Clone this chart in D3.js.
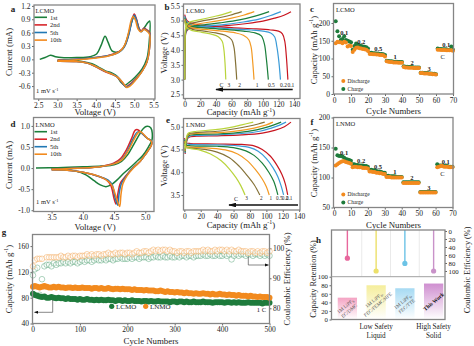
<!DOCTYPE html>
<html>
<head>
<meta charset="utf-8">
<script src="https://cdnjs.cloudflare.com/ajax/libs/d3/7.8.5/d3.min.js"></script>
<style>
  body { margin: 0; background: #fff; }
</style>
</head>
<body>
<script>
// ---------------- data ----------------

// panels a/d: cyclic voltammetry, [voltage, current]
const cvLabels = ["1st", "2nd", "5th", "10th"];
const cvColors = ["#1b7f3b", "#d7262b", "#2178b4", "#f28a1e"];

const cvA1st = [[2.54,0],[2.68,0.04],[2.82,0.09],[2.95,0.06],[3.1,0.04],[3.5,0.04],[3.85,0.06],[4.02,0.12],[4.14,0.32],[4.24,0.52],[4.32,0.38],[4.42,0.19],[4.52,0.16],[4.62,0.18],[4.72,0.26],[4.82,0.48],[4.92,0.8],[5.0,0.98],[5.07,0.84],[5.17,0.63],[5.27,0.72],[5.35,0.82],[5.4,0.86],[5.39,0.4],[5.33,0.02],[5.2,-0.22],[5.02,-0.4],[4.86,-0.52],[4.75,-0.58],[4.66,-0.52],[4.54,-0.37],[4.4,-0.3],[4.25,-0.26],[4.08,-0.18],[3.9,-0.1],[3.6,-0.04],[3.2,-0.02],[3.0,-0.02]];
const cvA2nd = [[3.0,-0.02],[3.5,0.0],[4.0,0.04],[4.3,0.08],[4.5,0.13],[4.65,0.2],[4.76,0.32],[4.86,0.58],[4.94,0.88],[5.0,1.02],[5.06,0.9],[5.12,0.7],[5.18,0.64],[5.25,0.7],[5.32,0.67],[5.4,0.6],[5.39,0.2],[5.33,-0.06],[5.22,-0.24],[5.08,-0.4],[4.94,-0.52],[4.84,-0.59],[4.77,-0.61],[4.68,-0.52],[4.56,-0.4],[4.4,-0.33],[4.22,-0.27],[4.0,-0.17],[3.8,-0.09],[3.5,-0.05],[3.0,-0.04]];
const cvA5th = [[3.0,-0.03],[3.5,0.0],[4.0,0.04],[4.3,0.08],[4.5,0.12],[4.65,0.19],[4.76,0.31],[4.86,0.56],[4.94,0.86],[5.0,0.99],[5.06,0.88],[5.12,0.68],[5.18,0.62],[5.25,0.68],[5.32,0.65],[5.4,0.58],[5.39,0.2],[5.33,-0.06],[5.22,-0.24],[5.08,-0.41],[4.95,-0.53],[4.85,-0.6],[4.78,-0.62],[4.69,-0.52],[4.57,-0.4],[4.4,-0.32],[4.22,-0.26],[4.0,-0.16],[3.8,-0.09],[3.5,-0.05],[3.0,-0.04]];
const cvA10th = [[3.0,-0.03],[3.5,-0.01],[4.0,0.03],[4.3,0.07],[4.5,0.12],[4.65,0.2],[4.75,0.32],[4.85,0.6],[4.92,0.88],[4.97,0.96],[5.03,0.88],[5.1,0.68],[5.17,0.62],[5.25,0.67],[5.32,0.64],[5.4,0.56],[5.39,0.2],[5.33,-0.06],[5.22,-0.25],[5.08,-0.42],[4.96,-0.54],[4.87,-0.61],[4.8,-0.63],[4.71,-0.53],[4.58,-0.41],[4.42,-0.33],[4.22,-0.26],[4.0,-0.16],[3.8,-0.09],[3.5,-0.05],[3.0,-0.04]];

const cvD1st = [[3.25,0.0],[3.6,0.01],[4.0,0.03],[4.3,0.05],[4.5,0.08],[4.62,0.16],[4.72,0.32],[4.8,0.52],[4.9,0.78],[4.97,0.94],[5.03,0.99],[5.09,0.95],[5.11,0.68],[5.05,0.5],[4.96,0.3],[4.85,0.14],[4.75,0.0],[4.65,-0.13],[4.55,-0.28],[4.45,-0.4],[4.37,-0.44],[4.28,-0.4],[4.18,-0.3],[4.05,-0.16],[3.85,-0.06],[3.6,-0.02],[3.5,-0.01]];
const cvD2nd = [[3.5,-0.02],[4.0,0.0],[4.3,0.04],[4.5,0.12],[4.6,0.22],[4.7,0.44],[4.78,0.7],[4.84,0.9],[4.88,0.91],[4.95,0.82],[5.02,0.72],[5.1,0.64],[5.1,0.55],[5.0,0.32],[4.92,0.16],[4.8,0.0],[4.68,-0.2],[4.6,-0.36],[4.56,-0.62],[4.53,-0.85],[4.5,-0.72],[4.45,-0.42],[4.38,-0.28],[4.26,-0.2],[4.0,-0.1],[3.75,-0.05],[3.5,-0.04]];
const cvD5th = [[3.5,-0.03],[4.0,0.0],[4.3,0.04],[4.5,0.1],[4.62,0.2],[4.72,0.42],[4.8,0.68],[4.87,0.85],[4.91,0.86],[4.97,0.79],[5.03,0.71],[5.1,0.64],[5.1,0.55],[5.0,0.32],[4.92,0.16],[4.8,0.0],[4.7,-0.18],[4.62,-0.36],[4.58,-0.62],[4.56,-0.88],[4.52,-0.72],[4.47,-0.4],[4.4,-0.28],[4.26,-0.2],[4.0,-0.1],[3.75,-0.05],[3.5,-0.04]];
const cvD10th = [[3.5,-0.03],[4.0,0.0],[4.3,0.04],[4.5,0.1],[4.63,0.2],[4.73,0.42],[4.82,0.68],[4.88,0.83],[4.92,0.86],[4.98,0.79],[5.04,0.7],[5.1,0.63],[5.1,0.55],[5.0,0.32],[4.92,0.16],[4.81,0.0],[4.71,-0.18],[4.64,-0.38],[4.61,-0.64],[4.59,-0.91],[4.54,-0.72],[4.48,-0.45],[4.42,-0.33],[4.3,-0.22],[4.0,-0.1],[3.75,-0.05],[3.5,-0.04]];

// panels b/e: charge-discharge at C rates, [capacity, voltage]
const rateNames = ["0.1", "0.2", "0.5", "1", "2", "3"];
const rateColors = ["#c8151f", "#3b9bd8", "#1b7f3b", "#f39a24", "#857238", "#b9d43c"];

const lcmoCharge = [
  [[0,3.0],[0.6,4.2],[2,4.62],[6,4.72],[20,4.77],[50,4.82],[80,4.9],[100,4.98],[115,5.08],[127,5.18],[136,5.3]],
  [[0,3.0],[0.6,4.25],[2,4.65],[6,4.75],[20,4.8],[50,4.86],[75,4.95],[95,5.05],[110,5.17],[123,5.3]],
  [[0,3.0],[0.6,4.3],[2,4.68],[6,4.78],[20,4.84],[45,4.92],[70,5.02],[90,5.15],[108,5.3]],
  [[0,3.0],[0.6,4.35],[2,4.72],[6,4.82],[20,4.9],[40,4.98],[60,5.08],[75,5.18],[89,5.3]],
  [[0,3.0],[0.6,4.4],[2,4.78],[6,4.88],[20,4.97],[40,5.07],[58,5.18],[73,5.3]],
  [[0,3.0],[0.6,4.45],[2,4.82],[6,4.94],[20,5.03],[35,5.12],[48,5.2],[60,5.3]]
];
const lcmoDischarge = [
  [[0,5.2],[3,5.0],[10,4.9],[30,4.82],[60,4.76],[90,4.72],[110,4.68],[120,4.64],[125,4.55],[128,4.3],[130,3.8],[132,3.0]],
  [[0,5.15],[3,4.95],[10,4.85],[30,4.78],[60,4.72],[85,4.68],[100,4.64],[110,4.58],[115,4.45],[118,4.1],[120.5,3.6],[122.5,3.0]],
  [[0,5.1],[3,4.9],[10,4.8],[30,4.74],[55,4.69],[75,4.64],[90,4.58],[98,4.48],[102,4.2],[104.5,3.7],[107,3.0]],
  [[0,5.05],[3,4.85],[10,4.75],[25,4.7],[45,4.65],[65,4.58],[75,4.5],[82,4.35],[85,4.1],[87,3.6],[88.7,3.0]],
  [[0,5.0],[3,4.8],[10,4.7],[25,4.64],[40,4.58],[52,4.5],[60,4.35],[63,4.1],[65,3.6],[66.6,3.0]],
  [[0,4.98],[3,4.75],[10,4.66],[22,4.6],[35,4.53],[43,4.45],[48,4.3],[50,4.05],[51.5,3.6],[52.6,3.0]]
];
const lnmoCharge = [
  [[1,4.4],[2.5,4.65],[5,4.76],[15,4.79],[40,4.8],[70,4.82],[95,4.86],[110,4.92],[122,5.0],[130,5.1]],
  [[1,4.42],[2.5,4.67],[5,4.78],[15,4.81],[40,4.82],[70,4.85],[92,4.9],[106,4.97],[117,5.04],[124,5.1]],
  [[1,4.44],[2.5,4.69],[5,4.8],[15,4.83],[40,4.84],[65,4.87],[88,4.93],[103,5.0],[118,5.1]],
  [[1,4.46],[2.5,4.71],[5,4.82],[15,4.85],[40,4.87],[65,4.91],[85,4.97],[100,5.04],[108,5.1]],
  [[1,4.48],[2.5,4.73],[5,4.84],[15,4.87],[40,4.9],[60,4.95],[78,5.01],[90,5.06],[98,5.1]],
  [[1,4.5],[2.5,4.75],[5,4.86],[15,4.9],[35,4.93],[55,4.98],[70,5.04],[84,5.1]]
];
const lnmoDischarge = [
  [[0,4.75],[2,4.65],[8,4.63],[40,4.62],[70,4.61],[85,4.58],[95,4.5],[105,4.35],[113,4.15],[119,3.95],[123,3.75],[126,3.5]],
  [[0,4.72],[2,4.63],[8,4.61],[40,4.6],[65,4.58],[80,4.54],[90,4.46],[100,4.3],[108,4.1],[114,3.9],[118,3.7],[121,3.5]],
  [[0,4.7],[2,4.6],[8,4.58],[40,4.57],[60,4.54],[75,4.47],[85,4.37],[95,4.2],[103,4.0],[109,3.8],[114,3.5]],
  [[0,4.68],[2,4.57],[8,4.55],[30,4.53],[50,4.49],[65,4.4],[77,4.25],[87,4.05],[95,3.85],[100,3.68],[103.5,3.5]],
  [[0,4.65],[2,4.55],[8,4.53],[25,4.5],[40,4.44],[55,4.32],[67,4.13],[77,3.92],[85,3.73],[92,3.5]],
  [[0,4.63],[2,4.55],[8,4.52],[20,4.48],[32,4.4],[45,4.25],[55,4.07],[63,3.88],[69,3.7],[74,3.5]]
];

// panels c/f: rate capability, cycles 1..70 (mAh/g)
const cycles = d3.range(1, 71);
const rateSteps = ["0.1", "0.2", "0.5", "1", "2", "3", "0.1"];
const lcmoRateDis = [143,147,146,146,143,147,145,134,137,135, 118,125,130,131,129,128,127,126,125,121,
  113,113,112,112,111,111,110,110,109,106, 92,91,90,90,89,89,89,88,88,88,
  76,75,75,74,74,74,73,73,73,73, 59,59,58,58,58,57,57,56,56,55,
  125,125,124,124,124,123,123,123,123,122];
const lcmoRateChg = [205,177,163,152,155,163,152,150,148,146, 125,135,142,139,137,135,134,133,132,128,
  116,116,115,115,114,114,113,113,112,110, 94,93,92,92,91,91,91,90,90,90,
  78,77,77,76,76,76,75,75,75,75, 60,60,59,59,59,58,58,57,57,56,
  128,127,127,126,126,126,125,125,134,125];
const lnmoRateDis = [120,122,124,126,127,127,126,125,124,123, 117,118,118,117,117,117,116,116,116,115,
  110,110,109,109,108,108,107,107,106,106, 101,101,101,100,100,100,100,100,100,100,
  91,91,91,91,91,91,91,91,91,91, 75,75,75,75,75,75,75,75,75,75,
  117,118,119,119,118,118,118,117,117,117];
const lnmoRateChg = [148,137,136,136,135,133,131,130,129,128, 122,122,121,121,120,120,120,119,119,118,
  113,113,112,112,111,110,110,109,108,108, 103,103,102,102,102,102,101,101,101,101,
  92,92,92,92,92,92,92,92,92,92, 76,76,76,76,76,76,76,76,76,76,
  122,120,120,120,119,119,119,118,118,118];

// panel g: long cycling at 1 C, sampled every 5 cycles
const cyclesG = [1].concat(d3.range(5, 501, 5));
const lcmoCap = [86,84,83,82,81,82,80,80,81,80, 79,80,79,79,78,79,78,78,78,77,
  78,77,77,78,77,77,76,77,76,77, 76,76,77,76,76,75,76,76,75,76,
  75,75,76,75,75,75,74,75,75,74, 75,74,74,75,74,74,74,74,73,74,
  74,73,74,74,73,74,73,73,74,73, 73,73,74,73,73,73,72,73,73,73,
  73,72,73,73,72,73,72,73,72,72, 72,73,72,72,72,72,72,71,72,72, 72];
const lnmoCap = [97,98,97,96,97,98,97,96,96,97, 96,97,96,96,95,96,96,95,96,95,
  95,96,95,95,95,94,95,95,94,95, 94,94,95,94,93,94,94,93,94,93,
  93,93,92,93,92,92,92,91,92,91, 91,91,90,90,91,90,89,90,89,89,
  88,89,88,88,87,88,87,87,86,87, 86,86,87,86,86,85,86,85,85,86,
  85,85,84,85,84,84,83,84,83,83, 83,82,83,82,82,81,82,81,81,81, 80];
const lcmoCE = [91,93,93.5,84.5,89.7,94,94.5,94.5,94,95, 94.5,95,95,95.5,95,95.5,95,95.5,95.5,95,
  95.5,96,95.5,96,96,95.5,96,96.5,96,96, 96.5,96,96.5,96.5,96,96.5,96.5,97,96.5,96.5,
  96.5,97,96.5,97,97,96.5,97,97,97,96.5, 97,97,97.5,97,97,97.5,97,97,97.5,97,
  97,97.5,97,97.5,97.5,97,97.5,97.5,97,97.5, 97.5,97.5,98,97.5,97.5,98,97.5,97.5,98,97.5,
  97.5,98,97.5,98,96.3,97.5,98,97.5,98,98, 97.5,98,98,97.5,98,98,97.5,98,97.5,98, 97.5];
const lnmoCE = [94,96,96.5,96.5,96.5,87.2,97,97,97,97, 97,97,97.5,97,97,97.5,97,97.5,97.5,97,
  97.5,97.5,97.5,98,97.5,98,97.5,98,98,97.5, 98,98,98.5,98,98,98.5,98,98.5,98.5,98,
  98.5,98.5,98,98.5,99,98.5,98.5,99,99,98.5, 99,99.5,99,99.5,99,99.5,99.5,99,99.5,99,
  99,98.5,99,99,98.5,99,99,98.5,99,99, 99,99,99.5,99,99.5,99,99,99.5,99,99.5,
  99.5,99,99.5,99,99.5,99,99,99.5,99,99, 99,98.5,99,99,98.5,99,98.5,99,99,98.5, 99];

// panel h: comparison of electrolytes
const hCats = ["EC/DMC", "FEC/FEMC/HFE", "FEC/TTE", "This Work"];
const hCE = [68, 100, 81, 100];
const hRetention = [51, 80, 73, 84];
const hColors = ["#e8679d", "#ece06a", "#6cc3e6", "#c992c9"];
const hBarTop = ["#f4a3c3", "#f5ee9c", "#a6daf3", "#cf8fd0"];

// ---------------- drawing ----------------
const FONT = "'Liberation Serif', 'Times New Roman', serif";
const GREEN = "#1e7b3c", ORANGE = "#f28a1e";

const svg = d3.select("body").append("svg")
  .attr("width", 474).attr("height", 346)
  .attr("font-family", FONT);

const defs = svg.append("defs");
defs.append("marker").attr("id", "arrowBig")
  .attr("viewBox", "0 0 10 6").attr("refX", 9).attr("refY", 3)
  .attr("markerWidth", 8).attr("markerHeight", 4.8)
  .attr("markerUnits", "userSpaceOnUse").attr("orient", "auto")
  .append("path").attr("d", "M0,0L10,3L0,6z").attr("fill", "#111");
defs.append("marker").attr("id", "arrowSmall")
  .attr("viewBox", "0 0 10 8").attr("refX", 9).attr("refY", 4)
  .attr("markerWidth", 4).attr("markerHeight", 3.2)
  .attr("markerUnits", "userSpaceOnUse").attr("orient", "auto")
  .append("path").attr("d", "M0,0L10,4L0,8z").attr("fill", "#111");

const f1 = d => d.toFixed(1);
const f0 = d => String(d);

function styleAxis(g, size) {
  g.attr("font-family", FONT).attr("font-size", size || 7.5);
  g.select(".domain").remove();
  g.selectAll(".tick line").attr("stroke", "#666");
  g.selectAll(".tick text").attr("fill", "#222");
}

function frame(box) {
  svg.append("rect")
    .attr("x", box.l).attr("y", box.t)
    .attr("width", box.r - box.l).attr("height", box.b - box.t)
    .attr("fill", "none").attr("stroke", "#858585").attr("stroke-width", 1.3);
}

function panel(box, xDom, yDom, xTicks, yTicks, xFmt, yFmt) {
  const x = d3.scaleLinear().domain(xDom).range([box.l, box.r]);
  const y = d3.scaleLinear().domain(yDom).range([box.b, box.t]);
  svg.append("g").attr("transform", `translate(0,${box.b})`)
    .call(d3.axisBottom(x).tickValues(xTicks).tickFormat(xFmt).tickSize(2).tickPadding(1.5))
    .call(styleAxis);
  svg.append("g").attr("transform", `translate(${box.l},0)`)
    .call(d3.axisLeft(y).tickValues(yTicks).tickFormat(yFmt).tickSize(2).tickPadding(1.5))
    .call(styleAxis);
  return { x, y };
}

function txt(x, y, s, size, o = {}) {
  return svg.append("text")
    .attr("x", x).attr("y", y).attr("dy", "0.35em")
    .attr("font-size", size)
    .attr("text-anchor", o.anchor || "middle")
    .attr("font-weight", o.bold ? "bold" : null)
    .attr("fill", o.fill || "#222")
    .text(s);
}

// text with a "-1" superscript, e.g. mAh g-1
function supText(x, y, before, sup, after, size, rotate, anchor) {
  const t = svg.append("text")
    .attr("transform", `translate(${x},${y})` + (rotate ? " rotate(-90)" : ""))
    .attr("dy", "0.35em").attr("font-size", size)
    .attr("text-anchor", anchor || "middle").attr("fill", "#222");
  t.append("tspan").text(before);
  t.append("tspan").attr("font-size", size * 0.68).attr("dy", -size * 0.38).text(sup);
  t.append("tspan").attr("dy", size * 0.38).text(after);
  return t;
}

function yTitle(x, y, s, size) {
  svg.append("text")
    .attr("transform", `translate(${x},${y}) rotate(-90)`)
    .attr("dy", "0.35em").attr("font-size", size)
    .attr("text-anchor", "middle").attr("fill", "#222")
    .text(s);
}

function drawCurve(s, pts, color, width) {
  const line = d3.line()
    .x(d => s.x(d[0])).y(d => s.y(d[1]))
    .curve(d3.curveCatmullRom.alpha(0.5));
  svg.append("path").attr("d", line(pts))
    .attr("fill", "none").attr("stroke", color)
    .attr("stroke-width", width).attr("stroke-linejoin", "round");
}

const TITLE = 8.8;

// ---------- panel a ----------
const boxA = { l: 34, r: 155, t: 5, b: 99 };
const sA = panel(boxA, [2.39, 5.54], [-0.89, 1.22],
  [2.5, 3, 3.5, 4, 4.5, 5, 5.5], [-0.6, -0.3, 0, 0.3, 0.6, 0.9, 1.2], f1, f1);
[cvA1st, cvA2nd, cvA5th, cvA10th].forEach((c, i) => drawCurve(sA, c, cvColors[i], 1.5));
frame(boxA);
txt(13, 9, "a", 9, { bold: true });
txt(35.5, 10.5, "LCMO", 6.5, { anchor: "start" });
cvLabels.forEach((l, i) => {
  svg.append("line").attr("x1", 34.5).attr("x2", 47).attr("y1", 17.3 + i * 7.6).attr("y2", 17.3 + i * 7.6)
    .attr("stroke", cvColors[i]).attr("stroke-width", 1.6);
  txt(50, 17.3 + i * 7.6, l, 6.5, { anchor: "start" });
});
supText(36, 91, "1 mV s", "-1", "", 6.5, false, "start");
yTitle(8.5, 52, "Current (mA)", TITLE);
txt(95, 112, "Voltage (V)", TITLE);

// ---------- panel b ----------
const boxB = { l: 183.5, r: 300, t: 4, b: 98.5 };
const sB = panel(boxB, [-1.5, 147.5], [2.36, 5.56],
  d3.range(0, 141, 20), [2.5, 3, 3.5, 4, 4.5, 5, 5.5], f0, f1);
rateNames.forEach((r, i) => {
  drawCurve(sB, lcmoCharge[i], rateColors[i], 1.2);
  drawCurve(sB, lcmoDischarge[i], rateColors[i], 1.2);
});
frame(boxB);
txt(167, 7, "b", 9, { bold: true });
txt(186, 10.5, "LCMO", 6.5, { anchor: "start" });
rateNames.forEach((r, i) => {
  const end = lcmoDischarge[i][lcmoDischarge[i].length - 1][0];
  txt(sB.x(end) + 3, 85, r, 5.5);
});
txt(221.5, 85, "C", 6);
svg.append("line").attr("x1", 292.7).attr("x2", 216).attr("y1", 89.5).attr("y2", 89.5)
  .attr("stroke", "#111").attr("stroke-width", 1.6).attr("marker-end", "url(#arrowBig)");
yTitle(163.5, 53, "Voltage (V)", TITLE);
supText(241, 112.3, "Capacity (mAh g", "-1", ")", TITLE, false);

// ---------- panels c and f (rate capability) ----------
function ratePanel(box, yDom, yTicks, dis, chg, name, letter, letterY) {
  const s = panel(box, [-0.3, 70.3], yDom, d3.range(0, 71, 10), yTicks, f0, f0);
  svg.append("g").selectAll("circle").data(chg).join("circle")
    .attr("cx", (d, i) => s.x(cycles[i])).attr("cy", d => s.y(d))
    .attr("r", 2).attr("fill", GREEN);
  svg.append("g").selectAll("circle").data(dis).join("circle")
    .attr("cx", (d, i) => s.x(cycles[i])).attr("cy", d => s.y(d))
    .attr("r", 2).attr("fill", ORANGE);
  frame(box);
  txt(336, box.t + 6.5, name, 6.5, { anchor: "start" });
  rateSteps.forEach((r, i) => {
    const seg = chg.slice(i * 10, i * 10 + 10);
    txt(s.x(i * 10 + 6), s.y(d3.mean(seg)) - 4.5, r, 6.5, { bold: true });
  });
  const last = dis.slice(60, 70);
  txt(s.x(64), s.y(d3.mean(last)) + 6.5, "C", 6.5);
  // legend
  const ly = box.b - 13;
  svg.append("circle").attr("cx", 343.3).attr("cy", ly).attr("r", 2).attr("fill", ORANGE);
  txt(347.5, ly, "Discharge", 5.5, { anchor: "start" });
  svg.append("circle").attr("cx", 343.3).attr("cy", ly + 8).attr("r", 2).attr("fill", GREEN);
  txt(347.5, ly + 8, "Charge", 5.5, { anchor: "start" });
  txt(312, letterY, letter, 9, { bold: true });
  return s;
}
const boxC = { l: 333.5, r: 453.5, t: 3.5, b: 94 };
ratePanel(boxC, [0, 255], [0, 50, 100, 150, 200], lcmoRateDis, lcmoRateChg, "LCMO", "c", 9);
supText(313.5, 50, "Capacity (mAh g", "-1", ")", TITLE, true);
txt(393.5, 110.5, "Cycle Numbers", TITLE);

const boxF = { l: 333.5, r: 453, t: 117.5, b: 207.5 };
ratePanel(boxF, [50, 200], [50, 100, 150, 200], lnmoRateDis, lnmoRateChg, "LNMO", "f", 122);
supText(313.5, 163, "Capacity (mAh g", "-1", ")", TITLE, true);
txt(393.5, 225, "Cycle Numbers", TITLE);

// ---------- panel d ----------
const boxD = { l: 33.5, r: 154, t: 117.5, b: 211.5 };
const sD = panel(boxD, [3.21, 5.14], [-1.03, 1.2],
  [3.5, 4, 4.5, 5], [-1, -0.5, 0, 0.5, 1], f1, f1);
[cvD1st, cvD2nd, cvD5th, cvD10th].forEach((c, i) => drawCurve(sD, c, cvColors[i], 1.5));
frame(boxD);
txt(13, 124, "d", 9, { bold: true });
txt(35.5, 124.5, "LNMO", 6.5, { anchor: "start" });
cvLabels.forEach((l, i) => {
  svg.append("line").attr("x1", 34.5).attr("x2", 47).attr("y1", 131.7 + i * 7.5).attr("y2", 131.7 + i * 7.5)
    .attr("stroke", cvColors[i]).attr("stroke-width", 1.6);
  txt(50, 131.7 + i * 7.5, l, 6.5, { anchor: "start" });
});
supText(36, 202, "1 mV s", "-1", "", 6.5, false, "start");
yTitle(8.5, 165, "Current (mA)", TITLE);
txt(95, 227, "Voltage (V)", TITLE);

// ---------- panel e ----------
const boxE = { l: 183.5, r: 300, t: 118.5, b: 210 };
const sE = panel(boxE, [-1, 141], [3.17, 5.18],
  d3.range(0, 141, 20), [3.5, 4, 4.5, 5], f0, f1);
rateNames.forEach((r, i) => {
  drawCurve(sE, lnmoCharge[i], rateColors[i], 1.2);
  drawCurve(sE, lnmoDischarge[i], rateColors[i], 1.2);
});
frame(boxE);
txt(168, 120, "e", 9, { bold: true });
txt(186, 124.5, "LNMO", 6.5, { anchor: "start" });
rateNames.forEach((r, i) => {
  const end = lnmoDischarge[i][lnmoDischarge[i].length - 1][0];
  txt(sE.x(end) + 1.5, 198.5, r, 5.2);
});
txt(236, 198.5, "C", 6);
svg.append("line").attr("x1", 298).attr("x2", 229).attr("y1", 205).attr("y2", 205)
  .attr("stroke", "#111").attr("stroke-width", 1.6).attr("marker-end", "url(#arrowBig)");
yTitle(163.5, 166, "Voltage (V)", TITLE);
supText(241, 224.5, "Capacity (mAh g", "-1", ")", TITLE, false);

// ---------- panel g ----------
const boxG = { l: 32.5, r: 269.5, t: 234.5, b: 323.5 };
const xG = d3.scaleLinear().domain([0, 500]).range([boxG.l, boxG.r]);
const yG = d3.scaleLinear().domain([40, 178]).range([boxG.b, boxG.t]);
const yCE = d3.scaleLinear().domain([74.93, 104.6]).range([boxG.b, boxG.t]);
svg.append("g").attr("transform", `translate(0,${boxG.b})`)
  .call(d3.axisBottom(xG).tickValues(d3.range(0, 501, 100)).tickSize(2).tickPadding(1.5))
  .call(styleAxis);
svg.append("g").attr("transform", `translate(${boxG.l},0)`)
  .call(d3.axisLeft(yG).tickValues([40, 80, 120, 160]).tickSize(2).tickPadding(1.5))
  .call(styleAxis);
svg.append("g").attr("transform", `translate(${boxG.r},0)`)
  .call(d3.axisRight(yCE).tickValues([80, 90, 100]).tickSize(2).tickPadding(1.5))
  .call(styleAxis);

svg.append("g").selectAll("circle").data(lcmoCE).join("circle")
  .attr("cx", (d, i) => xG(cyclesG[i])).attr("cy", d => yCE(d)).attr("r", 2.8)
  .attr("fill", "#fff").attr("fill-opacity", 0.4)
  .attr("stroke", "#5aa57a").attr("stroke-opacity", 0.7).attr("stroke-width", 0.7);
svg.append("g").selectAll("circle").data(lnmoCE).join("circle")
  .attr("cx", (d, i) => xG(cyclesG[i])).attr("cy", d => yCE(d)).attr("r", 2.8)
  .attr("fill", "#fff").attr("fill-opacity", 0.4)
  .attr("stroke", "#f3ad62").attr("stroke-opacity", 0.75).attr("stroke-width", 0.7);
svg.append("g").selectAll("circle").data(lcmoCap).join("circle")
  .attr("cx", (d, i) => xG(cyclesG[i])).attr("cy", d => yG(d)).attr("r", 3)
  .attr("fill", GREEN);
svg.append("g").selectAll("circle").data(lnmoCap).join("circle")
  .attr("cx", (d, i) => xG(cyclesG[i])).attr("cy", d => yG(d)).attr("r", 3)
  .attr("fill", ORANGE);
frame(boxG);

// bracket arrows pointing to the axes
svg.append("polyline").attr("points", "52.7,300 52.7,312.3 34.5,312.3")
  .attr("fill", "none").attr("stroke", "#555").attr("stroke-width", 0.7)
  .attr("marker-end", "url(#arrowSmall)");
svg.append("polyline").attr("points", "248.3,256.7 248.3,265 268.5,265")
  .attr("fill", "none").attr("stroke", "#555").attr("stroke-width", 0.7)
  .attr("marker-end", "url(#arrowSmall)");
txt(266, 309.3, "1 C", 6.5, { anchor: "end" });

svg.append("circle").attr("cx", 111.7).attr("cy", 306.3).attr("r", 2.6).attr("fill", GREEN);
txt(116, 306.3, "LCMO", 7, { anchor: "start" });
svg.append("circle").attr("cx", 145.7).attr("cy", 306.3).attr("r", 2.6).attr("fill", ORANGE);
txt(150, 306.3, "LNMO", 7, { anchor: "start" });

txt(4, 232, "g", 9, { bold: true });
supText(8.5, 279, "Capacity (mAh g", "-1", ")", TITLE, true);
yTitle(287, 279, "Coulombic Efficiency (%)", TITLE);
txt(151, 340.5, "Cycle Numbers", TITLE);

// ---------- panel h ----------
const boxH = { l: 331.5, r: 445, t: 230, b: 319.5 };
const midH = 276.7;
const hBand = d3.scaleBand().domain(hCats).range([333, 448]);
const hBar = d3.scaleBand().domain(hCats).range([333, 448]).paddingInner(0.33).paddingOuter(0.165);
const hCEy = d3.scaleLinear().domain([0, 100]).range([231, 271]);
const hRetY = d3.scaleLinear().domain([0, 100]).range([boxH.b, midH]);

svg.append("g").attr("transform", `translate(${boxH.r},0)`)
  .call(d3.axisRight(hCEy).tickValues(d3.range(0, 101, 20)).tickSize(2).tickPadding(1.5))
  .call(g => styleAxis(g, 6.8));
svg.append("g").attr("transform", `translate(${boxH.l},0)`)
  .call(d3.axisLeft(hRetY).tickValues(d3.range(0, 101, 20)).tickSize(2).tickPadding(1.5))
  .call(g => styleAxis(g, 6.8));

// light separators in the upper half
hCats.slice(1).forEach(c => {
  svg.append("line").attr("x1", hBand(c)).attr("x2", hBand(c))
    .attr("y1", boxH.t).attr("y2", midH).attr("stroke", "#e4e4e4").attr("stroke-width", 0.8);
});

// lollipops (coulombic efficiency)
hCats.forEach((c, i) => {
  const cx = hBand(c) + hBand.bandwidth() / 2;
  svg.append("line").attr("x1", cx).attr("x2", cx).attr("y1", boxH.t).attr("y2", hCEy(hCE[i]))
    .attr("stroke", hColors[i]).attr("stroke-width", 1.4);
  svg.append("circle").attr("cx", cx).attr("cy", hCEy(hCE[i])).attr("r", 2.6).attr("fill", hColors[i]);
});

// gradient bars (capacity retention)
hCats.forEach((c, i) => {
  const gr = defs.append("linearGradient").attr("id", "hg" + i)
    .attr("x1", 0).attr("y1", 0).attr("x2", 0).attr("y2", 1);
  gr.append("stop").attr("offset", "0%").attr("stop-color", hBarTop[i]);
  gr.append("stop").attr("offset", "100%").attr("stop-color", "#fff");
});
svg.append("g").selectAll("rect").data(hRetention).join("rect")
  .attr("x", (d, i) => hBar(hCats[i])).attr("width", hBar.bandwidth())
  .attr("y", d => hRetY(d)).attr("height", d => hRetY(0) - hRetY(d))
  .attr("fill", (d, i) => `url(#hg${i})`);

hCats.forEach((c, i) => {
  const cx = hBar(c) + hBar.bandwidth() / 2;
  const cy = (hRetY(hRetention[i]) + hRetY(0)) / 2;
  const g = svg.append("g").attr("transform", `translate(${cx},${cy}) rotate(-40)`);
  if (i < 3) {
    const t1 = g.append("text").attr("x", 0).attr("y", -1.5).attr("text-anchor", "middle")
      .attr("font-size", 5).attr("fill", "#555");
    t1.append("tspan").text("1M LiPF");
    t1.append("tspan").attr("font-size", 3.6).attr("dy", 1.2).text("6");
    t1.append("tspan").attr("dy", -1.2).text(i === 0 ? "" : ",");
    g.append("text").attr("x", 0).attr("y", 4.5).attr("text-anchor", "middle")
      .attr("font-size", 5).attr("fill", "#555").text(c);
  } else {
    g.append("text").attr("x", 0).attr("y", 2).attr("text-anchor", "middle")
      .attr("font-size", 5.5).attr("font-weight", "bold").attr("fill", "#111").text(c);
  }
});

frame(boxH);
svg.append("line").attr("x1", boxH.l).attr("x2", boxH.r).attr("y1", midH).attr("y2", midH)
  .attr("stroke", "#a0a0a0").attr("stroke-width", 1);

const liquidX = (hBand(hCats[0]) + hBand(hCats[2]) + hBand.bandwidth()) / 2;
const solidX = hBand(hCats[3]) + hBand.bandwidth() / 2;
txt(liquidX, 326, "Low Safety", 7.2);
txt(liquidX, 335, "Liquid", 7.2);
txt(solidX, 326, "High Safety", 7.2);
txt(solidX, 335, "Solid", 7.2);

txt(318.5, 240, "h", 9, { bold: true });
yTitle(313.5, 279, "Capacity Retention (%)", 8.2);
yTitle(467, 270, "Coulombic Efficiency (%)", 8.2);
</script>
</body>
</html>
